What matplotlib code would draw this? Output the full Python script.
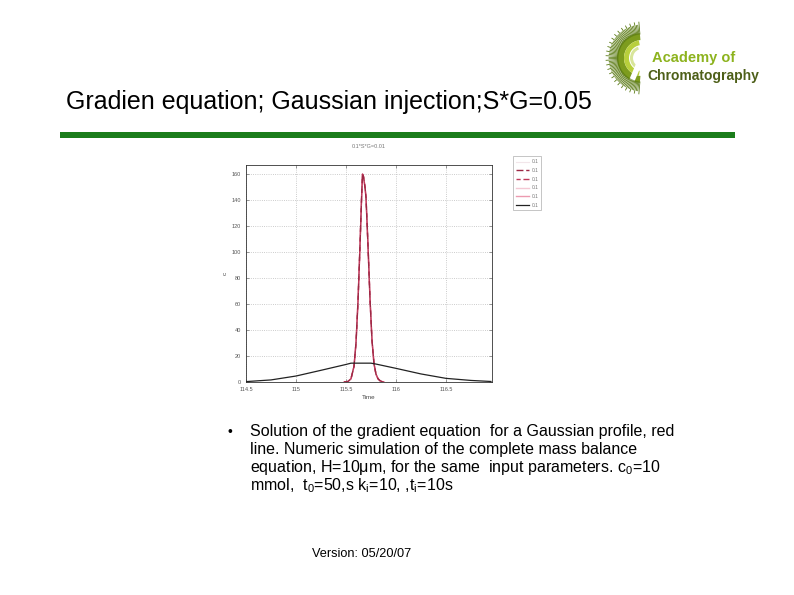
import numpy as np
import matplotlib
matplotlib.use("Agg")
import matplotlib.pyplot as plt
from matplotlib.patches import Wedge, Rectangle, Polygon

plt.rcParams['font.family'] = ['Liberation Sans', 'DejaVu Sans']
plt.rcParams['mathtext.fontset'] = 'custom'
plt.rcParams['mathtext.rm'] = 'Liberation Sans'
plt.rcParams['mathtext.it'] = 'Liberation Sans'
plt.rcParams['mathtext.bf'] = 'Liberation Sans:bold'

W, H = 794, 595

# ---- data ----
peak_time = [115.48, 115.50, 115.52, 115.55, 115.58, 115.60, 115.62, 115.64, 115.655,
             115.665, 115.675, 115.69, 115.70, 115.72, 115.74, 115.76, 115.78, 115.80,
             115.82, 115.84, 115.86, 115.88]
peak_c = [0.0, 0.1, 0.4, 2.5, 12.0, 30.0, 62.0, 105.0, 140.0,
          160.0, 158.0, 150.0, 142.0, 105.0, 64.0, 32.0, 14.0, 6.0,
          2.5, 1.0, 0.3, 0.0]
broad_time = [114.5, 114.75, 115.0, 115.25, 115.5, 115.55, 115.75, 115.8, 116.0,
              116.25, 116.5, 116.75, 116.95]
broad_c = [0.3, 1.6, 4.6, 9.0, 13.5, 14.5, 14.5, 13.8, 10.5, 6.2, 2.8, 1.2, 0.4]
legend_labels = ["0.1", "0.1", "0.1", "0.1", "0.1", "0.1"]
x_ticks = [114.5, 115.0, 115.5, 116.0, 116.5]
y_ticks = [0, 20, 40, 60, 80, 100, 120, 140, 160]

fig = plt.figure(figsize=(W / 100, H / 100), dpi=100)
fig.patch.set_facecolor('white')


def fx(x):
    return x / W


def fy(y):
    return 1 - y / H


# ---- slide title and green rule ----
fig.text(fx(66), fy(109), "Gradien equation; Gaussian injection;S*G=0.05",
         fontsize=18, color='black', ha='left', va='baseline')
fig.patches.append(Rectangle((fx(60), fy(138)), fx(735) - fx(60), (138 - 132) / H,
                             transform=fig.transFigure, facecolor='#1b7d1b',
                             edgecolor='none'))

# ---- chart ----
ax = fig.add_axes([fx(246), fy(382), fx(492) - fx(246), (382 - 165) / H])
styles = [
    dict(color='#f2e6ea', lw=0.8, ls='-', zorder=2),
    dict(color='#9c2844', lw=1.0, ls=(0, (5, 2)), zorder=5),
    dict(color='#c0385a', lw=1.0, ls=(2, (5, 2)), zorder=4),
    dict(color='#f4c8d4', lw=1.0, ls='-', zorder=2),
    dict(color='#ec9ab0', lw=1.0, ls='-', zorder=3),
]
for st, lab in zip(styles, legend_labels[:5]):
    ax.plot(peak_time, peak_c, label=lab, **st)
ax.plot(broad_time, broad_c, color='#222222', lw=0.9, label=legend_labels[5], zorder=6)

ax.set_xlim(114.5, 116.96)
ax.set_ylim(0, 167)
ax.set_xticks(x_ticks)
ax.set_xticklabels([f"{t:g}" for t in x_ticks])
ax.set_yticks(y_ticks)
ax.tick_params(labelsize=4, colors='#555555', length=2, width=0.4, direction='in',
               top=True, right=True)
ax.grid(True, ls=':', color='#bbbbbb', lw=0.6)
for s in ax.spines.values():
    s.set_linewidth(0.6)
    s.set_color('#333333')
ax.set_xlabel("Time", fontsize=4.5, color='#444444', labelpad=2)
ax.set_ylabel("c", fontsize=4.5, color='#444444', labelpad=3)
ax.set_title("0.1*S*G=0.01", fontsize=4, color='#777777', pad=12)

leg = ax.legend(loc='upper left', bbox_to_anchor=(fx(511), fy(154)),
                bbox_transform=fig.transFigure, fontsize=3.5, frameon=True,
                fancybox=False, edgecolor='#999999', handlelength=2.5,
                labelspacing=0.75, borderpad=0.6, handletextpad=0.6)
leg.get_frame().set_linewidth(0.5)
for t in leg.get_texts():
    t.set_color('#777777')

# ---- bullet text ----
fig.text(fx(227), fy(436), "•", fontsize=10, ha='left', va='baseline')
lines = [
    "Solution of the gradient equation  for a Gaussian profile, red",
    "line. Numeric simulation of the complete mass balance",
    "equation, H=10μm, for the same  input parameters. c$_\\mathrm{0}$=10",
    "mmol,  t$_\\mathrm{0}$=50,s k$_\\mathrm{i}$=10, ,t$_\\mathrm{i}$=10s",
]
for i, ln in enumerate(lines):
    fig.text(fx(250), fy(436 + 18 * i), ln, fontsize=11.5, ha='left', va='baseline')

fig.text(fx(312), fy(557), "Version: 05/20/07", fontsize=9.2, ha='left', va='baseline')

# ---- logo ----
lax = fig.add_axes([0, 0, 1, 1], zorder=-1)
lax.set_xlim(0, W)
lax.set_ylim(H, 0)
lax.axis('off')
cx, cy = 642, 58
angles = np.linspace(95, 265, 70)
for i, a in enumerate(angles):
    r0 = 24
    r1 = 33 + 3 * ((i % 3) == 0)
    ca, sa = np.cos(np.radians(a)), -np.sin(np.radians(a))
    lax.plot([cx + r0 * ca, cx + r1 * ca], [cy + r0 * sa, cy + r1 * sa],
             color='#5a7a14', lw=0.6)
lax.add_patch(Wedge((cx, cy), 25, 95, 265, width=7, facecolor='#7d9c1e',
                    edgecolor='none'))
lax.add_patch(Wedge((cx, cy), 18, 100, 260, width=5, facecolor='#b8cf3c',
                    edgecolor='none'))
lax.add_patch(Wedge((cx, cy), 12, 110, 250, width=3, facecolor='#d8e59a',
                    edgecolor='none'))
lax.add_patch(Polygon([[646, 40], [652, 40], [630, 92], [624, 92]],
                      closed=True, facecolor='white', edgecolor='none'))
fig.text(fx(652), fy(62), "Academy of", fontsize=10.5, color='#8db31e',
         fontweight='bold', ha='left', va='baseline')
fig.text(fx(647), fy(80), "Chromatography", fontsize=10, color='#4d5f18',
         fontweight='bold', ha='left', va='baseline')

fig.savefig("out.png", dpi=100, facecolor='white')
